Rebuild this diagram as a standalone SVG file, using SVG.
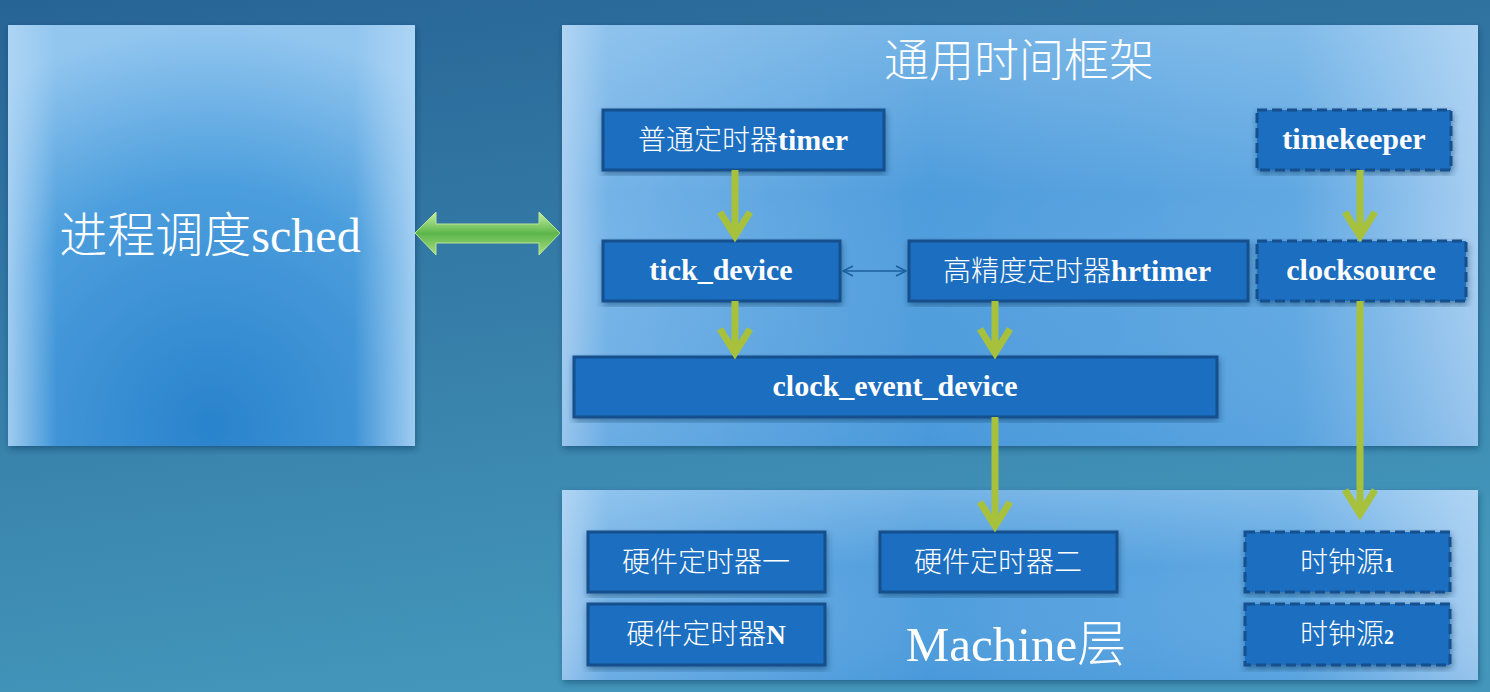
<svg xmlns="http://www.w3.org/2000/svg" width="1490" height="692" viewBox="0 0 1490 692">
<defs>
<linearGradient id="bg" x1="0" y1="0" x2="0.3" y2="1">
<stop offset="0" stop-color="#276496"/>
<stop offset="1" stop-color="#4497bb"/>
</linearGradient>
<radialGradient id="leftg" cx="0.5" cy="1" r="1" fx="0.5" fy="0.95">
<stop offset="0" stop-color="#2a83cc"/>
<stop offset="0.6" stop-color="#4c9edd"/>
<stop offset="1" stop-color="#92c6ef"/>
</radialGradient>
<linearGradient id="leftside" x1="0" y1="0" x2="1" y2="0">
<stop offset="0" stop-color="#b4d8f6" stop-opacity="0.8"/>
<stop offset="0.12" stop-color="#b4d8f6" stop-opacity="0"/>
<stop offset="0.85" stop-color="#b4d8f6" stop-opacity="0"/>
<stop offset="1" stop-color="#b4d8f6" stop-opacity="0.8"/>
</linearGradient>
<linearGradient id="panelg" x1="0" y1="0" x2="1" y2="0">
<stop offset="0" stop-color="#a9cff1"/>
<stop offset="0.05" stop-color="#74b3e7"/>
<stop offset="0.4" stop-color="#4e9cdc"/>
<stop offset="0.8" stop-color="#60a8e2"/>
<stop offset="1" stop-color="#a7cef1"/>
</linearGradient>
<linearGradient id="panelv" x1="0" y1="0" x2="0" y2="1">
<stop offset="0" stop-color="#bfe0f8" stop-opacity="0.35"/>
<stop offset="0.4" stop-color="#bfe0f8" stop-opacity="0"/>
<stop offset="1" stop-color="#2f86cf" stop-opacity="0.15"/>
</linearGradient>
<linearGradient id="greenArrow" x1="0" y1="0" x2="0" y2="1">
<stop offset="0" stop-color="#c8f0a6"/>
<stop offset="0.5" stop-color="#5db64a"/>
<stop offset="1" stop-color="#a9dd85"/>
</linearGradient>
<filter id="shadow" x="-5%" y="-5%" width="110%" height="115%">
<feDropShadow dx="1" dy="3" stdDeviation="3" flood-color="#0a2f55" flood-opacity="0.45"/>
</filter>
<marker id="thinHead" viewBox="0 0 12 12" refX="11" refY="6" markerWidth="12" markerHeight="12" markerUnits="userSpaceOnUse" orient="auto-start-reverse">
<path d="M1,1 L11,6 L1,11" fill="none" stroke="#1b5e9c" stroke-width="1.5"/>
</marker>
<style>
.node rect { fill: #1d6ec0; stroke: #15508e; stroke-width: 3; }
.node rect.dash { stroke-dasharray: 10 5; }
.lbl { fill: #ffffff; font-family: "Liberation Serif", "Noto Sans CJK SC", serif; font-size: 30px; font-weight: bold; text-anchor: middle; }
.cjk { fill: #ffffff; font-family: "Noto Sans CJK SC", "Liberation Serif", sans-serif; font-size: 28px; font-weight: 300; text-anchor: middle; }
.ltn { font-family: "Liberation Serif", serif; font-weight: bold; font-size: 30px; }
.ltn.sm { font-size: 27px; }
.ltn.num { font-size: 20px; }
.big { fill: #ffffff; font-family: "Liberation Serif", "Noto Sans CJK SC", serif; text-anchor: middle; }
.cn { font-family: "Noto Sans CJK SC", sans-serif; font-weight: 300; }
.conn { fill: none; stroke: #a8c13c; stroke-width: 7; }
.head { fill: none; stroke: #a8c13c; stroke-width: 7; stroke-linejoin: miter; }
</style>
</defs>

<rect x="0" y="0" width="1490" height="692" fill="url(#bg)"/>

<g id="sched">
<rect x="8" y="25" width="407" height="421" fill="url(#leftg)" filter="url(#shadow)"/>
<rect x="8" y="25" width="407" height="421" fill="url(#leftside)"/>
<text class="big" x="210" y="252" font-size="48"><tspan class="cn">进程调度</tspan>sched</text>
</g>

<g id="bidir-arrow">
<polygon points="415,233 436,212 436,224 539,224 539,212 560,233 539,255 539,243 436,243 436,255" fill="url(#greenArrow)" stroke="#b9e494" stroke-width="1"/>
</g>

<g id="framework">
<rect x="562" y="25" width="916" height="421" fill="url(#panelg)" filter="url(#shadow)"/>
<rect x="562" y="25" width="916" height="421" fill="url(#panelv)"/>
<text class="big" x="1019" y="77" font-size="45"><tspan class="cn">通用时间框架</tspan></text>
</g>

<g id="machine">
<rect x="562" y="490" width="916" height="190" fill="url(#panelg)" filter="url(#shadow)"/>
<rect x="562" y="490" width="916" height="190" fill="url(#panelv)"/>
<text class="big" x="1016" y="661" font-size="49">Machine<tspan class="cn">层</tspan></text>
</g>

<g id="timer" class="node">
<rect x="603" y="110" width="281" height="60" filter="url(#shadow)"/>
<text class="cjk" x="743" y="150">普通定时器<tspan class="ltn">timer</tspan></text>
</g>
<g id="tick_device" class="node">
<rect x="603" y="241" width="237" height="60" filter="url(#shadow)"/>
<text class="lbl" x="721" y="280">tick_device</text>
</g>
<g id="hrtimer" class="node">
<rect x="909" y="241" width="339" height="60" filter="url(#shadow)"/>
<text class="cjk" x="1077" y="281">高精度定时器<tspan class="ltn">hrtimer</tspan></text>
</g>
<g id="clock_event_device" class="node">
<rect x="574" y="357" width="643" height="60" filter="url(#shadow)"/>
<text class="lbl" x="895" y="396">clock_event_device</text>
</g>
<g id="timekeeper" class="node">
<rect class="dash" x="1257" y="110" width="194" height="60" filter="url(#shadow)"/>
<text class="lbl" x="1354" y="149">timekeeper</text>
</g>
<g id="clocksource" class="node">
<rect class="dash" x="1257" y="241" width="209" height="60" filter="url(#shadow)"/>
<text class="lbl" x="1361" y="280">clocksource</text>
</g>
<g id="hw1" class="node">
<rect x="588" y="532" width="237" height="60" filter="url(#shadow)"/>
<text class="cjk" x="706" y="572">硬件定时器一</text>
</g>
<g id="hwN" class="node">
<rect x="588" y="604" width="237" height="61" filter="url(#shadow)"/>
<text class="cjk" x="706" y="644">硬件定时器<tspan class="ltn sm">N</tspan></text>
</g>
<g id="hw2" class="node">
<rect x="880" y="532" width="237" height="60" filter="url(#shadow)"/>
<text class="cjk" x="998" y="572">硬件定时器二</text>
</g>
<g id="cs1" class="node">
<rect class="dash" x="1245" y="532" width="205" height="60" filter="url(#shadow)"/>
<text class="cjk" x="1347" y="572">时钟源<tspan class="ltn num">1</tspan></text>
</g>
<g id="cs2" class="node">
<rect class="dash" x="1245" y="604" width="205" height="61" filter="url(#shadow)"/>
<text class="cjk" x="1347" y="644">时钟源<tspan class="ltn num">2</tspan></text>
</g>

<g id="connectors">
<line class="conn" x1="735" y1="170" x2="735" y2="234"/>
<polyline class="head" points="720,212 735,236 750,212"/>
<line class="conn" x1="735" y1="301" x2="735" y2="351"/>
<polyline class="head" points="720,329 735,353 750,329"/>
<line class="conn" x1="995" y1="301" x2="995" y2="351"/>
<polyline class="head" points="980,329 995,353 1010,329"/>
<line class="conn" x1="995" y1="417" x2="995" y2="524"/>
<polyline class="head" points="980,502 995,526 1010,502"/>
<line class="conn" x1="1360" y1="170" x2="1360" y2="234"/>
<polyline class="head" points="1345,212 1360,236 1375,212"/>
<line class="conn" x1="1360" y1="301" x2="1360" y2="512"/>
<polyline class="head" points="1345,490 1360,514 1375,490"/>
<line x1="843" y1="271" x2="906" y2="271" stroke="#1b5e9c" stroke-width="1.5" marker-start="url(#thinHead)" marker-end="url(#thinHead)"/>
</g>
</svg>
